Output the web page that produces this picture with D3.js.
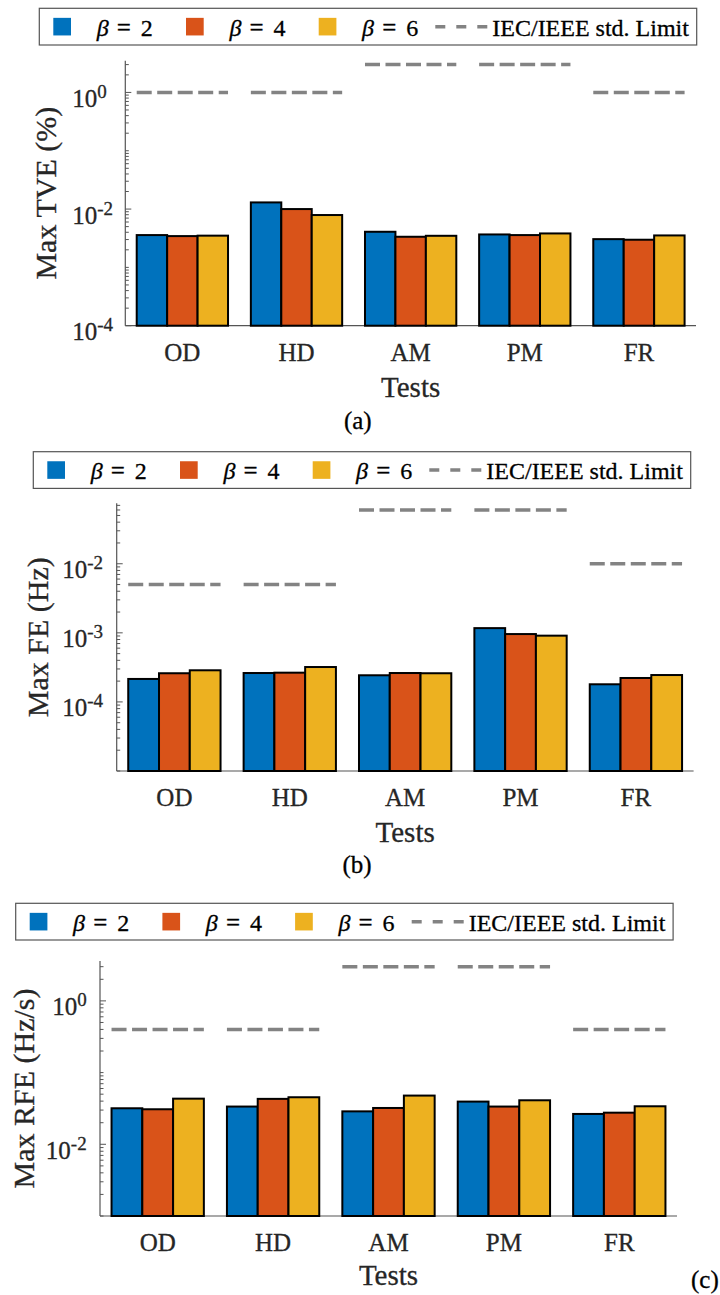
<!DOCTYPE html>
<html><head><meta charset="utf-8">
<script src="https://cdn.jsdelivr.net/npm/d3@7"></script>
<style>
body{margin:0;background:#fff;}
svg{display:block;font-family:"Liberation Serif","Times New Roman",serif;}
svg text{stroke:currentColor;stroke-width:0.3px;}
</style>
</head><body>
<svg id="chart" width="720" height="1295"></svg>
<script>
// ---------- data ----------
const tests = ["OD", "HD", "AM", "PM", "FR"];
const seriesNames = ["2", "4", "6"];           // beta values
const seriesColors = ["#0072BD", "#D95319", "#EDB120"];
const limitLabel = "IEC/IEEE std. Limit";

// (a) Max TVE (%)
const tveBeta2 = [3.58e-3, 0.0130, 4.08e-3, 3.67e-3, 3.05e-3];
const tveBeta4 = [3.44e-3, 0.0100, 3.35e-3, 3.58e-3, 2.98e-3];
const tveBeta6 = [3.50e-3, 7.9e-3, 3.48e-3, 3.82e-3, 3.53e-3];
const tveLimit = [1, 1, 3, 3, 1];
const tveTicks = [1e-4, 1e-2, 1];

// (b) Max FE (Hz)
const feBeta2 = [2.15e-4, 2.62e-4, 2.43e-4, 1.17e-3, 1.80e-4];
const feBeta4 = [2.60e-4, 2.65e-4, 2.62e-4, 9.6e-4, 2.22e-4];
const feBeta6 = [2.87e-4, 3.20e-4, 2.60e-4, 9.1e-4, 2.45e-4];
const feLimit = [0.005, 0.005, 0.06, 0.06, 0.01];
const feTicks = [1e-4, 1e-3, 1e-2];

// (c) Max RFE (Hz/s)
const rfeBeta2 = [0.0318, 0.0336, 0.0288, 0.0394, 0.0265];
const rfeBeta4 = [0.0308, 0.0430, 0.0321, 0.0336, 0.0276];
const rfeBeta6 = [0.0433, 0.0453, 0.0478, 0.0411, 0.0339];
const rfeLimit = [0.4, 0.4, 3, 3, 0.4];
const rfeTicks = [1e-2, 1];

// ---------- layout ----------
const panels = [
  {yLabel:"Max TVE (%)", series:[tveBeta2,tveBeta4,tveBeta6], limit:tveLimit, ticks:tveTicks,
   domain:[1e-4,3.5], left:125.3, right:696, top:60.7, bottom:325.7,
   legX:39.3, legY:8.3, yLabX:56.3, tickAlign:"base", tickGap:28, xTickY:361, titleY:396.5,
   tag:"(a)", tagX:357.8, tagY:429, tagAnchor:"middle"},
  {yLabel:"Max FE (Hz)", series:[feBeta2,feBeta4,feBeta6], limit:feLimit, ticks:feTicks,
   domain:[1e-5,0.075], left:116.7, right:693.6, top:503.3, bottom:771,
   legX:33.3, legY:451.7, yLabX:48, tickAlign:"base", tickGap:29.4, xTickY:805.7, titleY:841.5,
   tag:"(b)", tagX:357, tagY:872.5, tagAnchor:"middle"},
  {yLabel:"Max RFE (Hz/s)", series:[rfeBeta2,rfeBeta4,rfeBeta6], limit:rfeLimit, ticks:rfeTicks,
   domain:[1e-3,3.6], left:100, right:677, top:961, bottom:1216,
   legX:15.7, legY:903.3, yLabX:34, tickAlign:"end", tickGap:13.3, xTickY:1250.5, titleY:1285,
   tag:"(c)", tagX:691, tagY:1288, tagAnchor:"start"}
];

const svg = d3.select("#chart");
const axisColor = "#555";
const labelColor = "#262626";
const limitColor = "#838383";

panels.forEach(p => {
  const g = svg.append("g");
  const x = d3.scaleBand().domain(tests).range([p.left, p.right]).paddingInner(0.2).paddingOuter(0.1);
  const xi = d3.scaleBand().domain(d3.range(p.series.length)).range([0, x.bandwidth()]);
  const y = d3.scaleLog().domain(p.domain).range([p.bottom, p.top]);

  // axis lines
  g.append("line").attr("x1", p.left).attr("x2", p.left).attr("y1", p.top).attr("y2", p.bottom)
    .attr("stroke", axisColor).attr("stroke-width", 1.2);
  g.append("line").attr("x1", p.left).attr("x2", p.right).attr("y1", p.bottom).attr("y2", p.bottom)
    .attr("stroke", axisColor).attr("stroke-width", 1.2);

  // minor / major ticks (inward)
  const lo = Math.floor(Math.log10(p.domain[0])), hi = Math.ceil(Math.log10(p.domain[1]));
  const tickVals = [];
  for (let d = lo; d <= hi; d++) for (let k = 1; k <= 9; k++) {
    const v = k * Math.pow(10, d);
    if (v >= p.domain[0] * 0.999 && v <= p.domain[1] * 1.001) tickVals.push(v);
  }
  const isMajor = v => p.ticks.some(t => Math.abs(Math.log10(t) - Math.log10(v)) < 1e-6);
  g.selectAll(".tk").data(tickVals).join("line")
    .attr("x1", p.left).attr("x2", v => p.left + (isMajor(v) ? 6 : 3.5))
    .attr("y1", v => y(v)).attr("y2", v => y(v))
    .attr("stroke", axisColor).attr("stroke-width", 1);

  // y tick labels 10^n
  p.ticks.forEach(t => {
    const e = String(Math.round(Math.log10(t)));
    const xb = p.left - p.tickGap;
    if (p.tickAlign === "end") {
      const tx = g.append("text").attr("x", xb).attr("y", y(t) + 14.5)
        .attr("text-anchor", "end").attr("font-size", 25).attr("fill", labelColor).attr("color", labelColor);
      tx.append("tspan").text("10");
      tx.append("tspan").attr("font-size", 19).attr("dy", -9).text(e);
    } else {
      g.append("text").attr("x", xb).attr("y", y(t) + 14.5)
        .attr("text-anchor", "end").attr("font-size", 25).attr("fill", labelColor).attr("color", labelColor).text("10");
      g.append("text").attr("x", xb).attr("y", y(t) + 5.5)
        .attr("text-anchor", "start").attr("font-size", 19).attr("fill", labelColor).attr("color", labelColor).text(e);
    }
  });

  // bars
  p.series.forEach((vals, si) => {
    g.selectAll(".bar" + si).data(tests).join("rect")
      .attr("x", d => x(d) + xi(si))
      .attr("width", xi.bandwidth())
      .attr("y", (d, i) => y(vals[i]))
      .attr("height", (d, i) => p.bottom - y(vals[i]))
      .attr("fill", seriesColors[si])
      .attr("stroke", "#000").attr("stroke-width", 2);
  });

  // limit lines
  g.selectAll(".lim").data(tests).join("line")
    .attr("x1", d => x(d)).attr("x2", d => x(d) + x.bandwidth())
    .attr("y1", (d, i) => y(p.limit[i])).attr("y2", (d, i) => y(p.limit[i]))
    .attr("stroke", limitColor).attr("stroke-width", 3.5).attr("stroke-dasharray", "15,5.5");

  // x tick labels
  g.selectAll(".xl").data(tests).join("text")
    .attr("x", d => x(d) + x.bandwidth() / 2).attr("y", p.xTickY)
    .attr("text-anchor", "middle").attr("font-size", 25).attr("fill", labelColor).attr("color", labelColor)
    .text(d => d);

  // axis titles
  g.append("text").attr("x", (p.left + p.right) / 2).attr("y", p.titleY)
    .attr("text-anchor", "middle").attr("font-size", 29).attr("fill", labelColor).attr("color", labelColor).text("Tests");
  g.append("text").attr("transform", `translate(${p.yLabX},${(p.top + p.bottom) / 2}) rotate(-90)`)
    .attr("text-anchor", "middle").attr("font-size", 30).attr("fill", labelColor).attr("color", labelColor).text(p.yLabel);

  // panel tag
  g.append("text").attr("x", p.tagX).attr("y", p.tagY).attr("text-anchor", p.tagAnchor)
    .attr("font-size", 25).attr("fill", "#000").attr("color", "#000").text(p.tag);

  // legend
  const lg = g.append("g").attr("transform", `translate(${p.legX},${p.legY})`);
  const lh = 36.7, cy = lh / 2;
  lg.append("rect").attr("width", 657.4).attr("height", lh)
    .attr("fill", "#fff").attr("stroke", "#555").attr("stroke-width", 1.2);
  seriesNames.forEach((nm, si) => {
    const ox = 14 + si * 132.7;
    lg.append("rect").attr("x", ox).attr("y", cy - 8.8).attr("width", 17.7).attr("height", 17.6)
      .attr("fill", seriesColors[si]);
    lg.append("text").attr("x", ox + 43.4).attr("y", cy + 9).attr("font-size", 24)
      .attr("font-style", "italic").attr("fill", "#000").attr("color", "#000").text("β");
    lg.append("text").attr("x", ox + 63.5).attr("y", cy + 9).attr("font-size", 25)
      .attr("fill", "#000").attr("color", "#000").text("=");
    lg.append("text").attr("x", ox + 87.5).attr("y", cy + 9).attr("font-size", 24)
      .attr("fill", "#000").attr("color", "#000").text(nm);
  });
  lg.append("line").attr("x1", 396).attr("x2", 448).attr("y1", cy).attr("y2", cy)
    .attr("stroke", limitColor).attr("stroke-width", 3.5).attr("stroke-dasharray", "10,11");
  lg.append("text").attr("x", 453).attr("y", cy + 9).attr("font-size", 24)
    .attr("fill", "#000").attr("color", "#000").text(limitLabel);
});
</script>
</body></html>
